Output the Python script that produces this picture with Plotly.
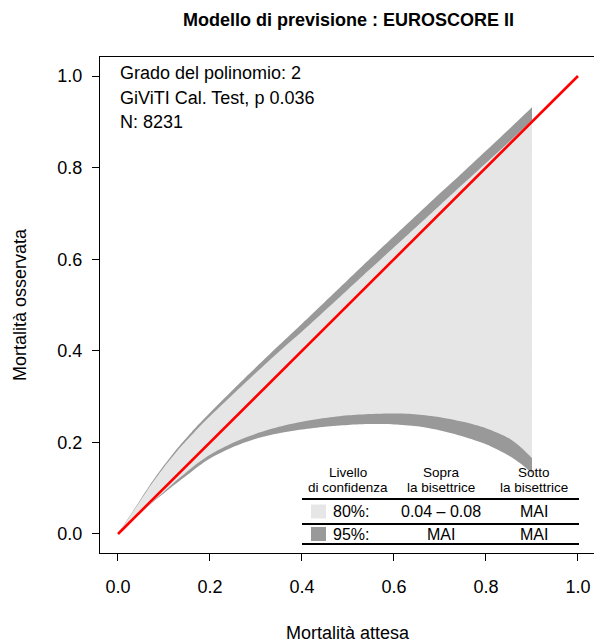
import plotly.graph_objects as go

# ---- data ----
belt_x = [0, 0.025, 0.05, 0.075, 0.1, 0.125, 0.15, 0.175, 0.2, 0.25, 0.3, 0.35, 0.4, 0.45, 0.5,
          0.55, 0.6, 0.65, 0.7, 0.75, 0.8, 0.85, 0.875, 0.9]
upper95 = [0, 0.038, 0.077, 0.115, 0.15, 0.182, 0.211, 0.239, 0.265, 0.315, 0.364, 0.412,
           0.459, 0.507, 0.555, 0.603, 0.65, 0.697, 0.744, 0.79, 0.837, 0.884, 0.908, 0.932]
upper80 = [0, 0.037, 0.075, 0.112, 0.146, 0.177, 0.205, 0.232, 0.257, 0.305, 0.352, 0.398,
           0.442, 0.488, 0.534, 0.58, 0.626, 0.672, 0.718, 0.764, 0.81, 0.856, 0.88, 0.904]
lower80 = [0, 0.024, 0.047, 0.07, 0.092, 0.115, 0.136, 0.156, 0.173, 0.199, 0.219, 0.234,
           0.245, 0.253, 0.259, 0.262, 0.263, 0.261, 0.255, 0.245, 0.231, 0.209, 0.19, 0.166]
lower95 = [0, 0.024, 0.047, 0.069, 0.089, 0.109, 0.128, 0.148, 0.165, 0.19, 0.208, 0.22,
           0.228, 0.234, 0.238, 0.24, 0.239, 0.235, 0.226, 0.213, 0.196, 0.171, 0.154, 0.133]
bisector_x = [0, 1]
bisector_y = [0, 1]

tick_vals = [0, 0.2, 0.4, 0.6, 0.8, 1.0]
tick_text = ["0.0", "0.2", "0.4", "0.6", "0.8", "1.0"]

title = "Modello di previsione : EUROSCORE II"
x_title = "Mortalità attesa"
y_title = "Mortalità osservata"
info_lines = ["Grado del polinomio: 2", "GiViTI Cal. Test, p 0.036", "N: 8231"]

table_headers = [["Livello", "di confidenza"], ["Sopra", "la bisettrice"], ["Sotto", "la bisettrice"]]
table_rows = [["80%:", "0.04 – 0.08", "MAI"], ["95%:", "MAI", "MAI"]]

LIGHT = "#e6e6e6"
DARK = "#999999"
FONT = "Liberation Sans, Arial, Helvetica, sans-serif"


def closed(xs, top, bottom):
    # polygon: along the top edge, down the right side, back along the bottom edge
    px = [xs[0]] + xs + [xs[-1]] + [xs[-1]] + xs[::-1] + [xs[0]]
    py = [top[0]] + top + [top[-1]] + [bottom[-1]] + bottom[::-1] + [bottom[0]]
    return px, py


fig = go.Figure()

for top, bot, col in [(upper95, lower95, DARK), (upper80, lower80, LIGHT)]:
    px, py = closed(belt_x, top, bot)
    fig.add_trace(go.Scatter(
        x=px, y=py, fill="toself", fillcolor=col, mode="lines",
        line=dict(width=0, color=col, shape="spline", smoothing=0.8),
        hoverinfo="skip", showlegend=False))
fig.add_trace(go.Scatter(
    x=bisector_x, y=bisector_y, mode="lines",
    line=dict(color="#ff0000", width=2.6), hoverinfo="skip", showlegend=False))

# plot area in pixels: x 100..594, y 57..553
def px_x(p):
    return (p - 100) / 494.0


def px_y(p):
    return (553 - p) / 496.0


ann = []
ann.append(dict(x=px_x(348), y=px_y(20), xref="paper", yref="paper", text="<b>%s</b>" % title,
                showarrow=False, font=dict(size=18, color="black", family=FONT),
                xanchor="center", yanchor="middle"))
ann.append(dict(x=px_x(348), y=px_y(633), xref="paper", yref="paper", text=x_title, showarrow=False,
                font=dict(size=18, color="black", family=FONT), xanchor="center", yanchor="middle"))
ann.append(dict(x=px_x(20), y=px_y(305), xref="paper", yref="paper", text=y_title, showarrow=False,
                textangle=-90, font=dict(size=18, color="black", family=FONT),
                xanchor="center", yanchor="middle"))
for line, yy in zip(info_lines, [73, 98, 122]):
    ann.append(dict(x=px_x(118), y=px_y(yy), xref="paper", yref="paper", text=line, showarrow=False,
                    font=dict(size=18, color="black", family=FONT), xanchor="left", yanchor="middle"))

col_x = [348, 441, 534]
for cx, hdr in zip(col_x, table_headers):
    for yy, t in zip([472, 487], hdr):
        ann.append(dict(x=px_x(cx), y=px_y(yy), xref="paper", yref="paper", text=t, showarrow=False,
                        font=dict(size=13.5, color="black", family=FONT),
                        xanchor="center", yanchor="middle"))
row_y = [511.5, 534]
for ry, row in zip(row_y, table_rows):
    ann.append(dict(x=px_x(331), y=px_y(ry), xref="paper", yref="paper", text=row[0], showarrow=False,
                    font=dict(size=16, color="black", family=FONT), xanchor="left", yanchor="middle"))
    for cx, t in zip(col_x[1:], row[1:]):
        ann.append(dict(x=px_x(cx), y=px_y(ry), xref="paper", yref="paper", text=t, showarrow=False,
                        font=dict(size=16, color="black", family=FONT),
                        xanchor="center", yanchor="middle"))

shapes = []
for ly in [499, 524, 544]:
    shapes.append(dict(type="line", xref="paper", yref="paper", x0=px_x(302), x1=px_x(579),
                       y0=px_y(ly), y1=px_y(ly), line=dict(color="black", width=2)))
for ry, col in zip(row_y, [LIGHT, DARK]):
    shapes.append(dict(type="rect", xref="paper", yref="paper", x0=px_x(311), x1=px_x(326),
                       y0=px_y(ry + 7), y1=px_y(ry - 7), fillcolor=col, line=dict(width=0)))

fig.update_layout(
    width=594, height=642,
    margin=dict(l=100, r=0, t=57, b=89, autoexpand=False),
    paper_bgcolor="white", plot_bgcolor="white",
    font=dict(family=FONT, size=18, color="black"),
    annotations=ann, shapes=shapes,
    xaxis=dict(range=[-0.0391, 1.0348], tickvals=tick_vals, ticktext=tick_text,
               showgrid=False, zeroline=False, showline=True, linecolor="black", linewidth=1,
               mirror=True, ticks="outside", ticklen=7, tickcolor="black", tickwidth=1,
               tickfont=dict(size=18, family=FONT), ticklabelstandoff=10, automargin=False),
    yaxis=dict(range=[-0.0415, 1.0415], tickvals=tick_vals, ticktext=tick_text,
               showgrid=False, zeroline=False, showline=True, linecolor="black", linewidth=1,
               ticks="outside", ticklen=7, tickcolor="black", tickwidth=1,
               tickfont=dict(size=18, family=FONT), ticklabelstandoff=6, automargin=False),
)

fig.write_html(
    "out.html",
    config={"displayModeBar": False},
    post_script="document.body.style.margin='0';document.body.style.overflow='hidden';",
)
